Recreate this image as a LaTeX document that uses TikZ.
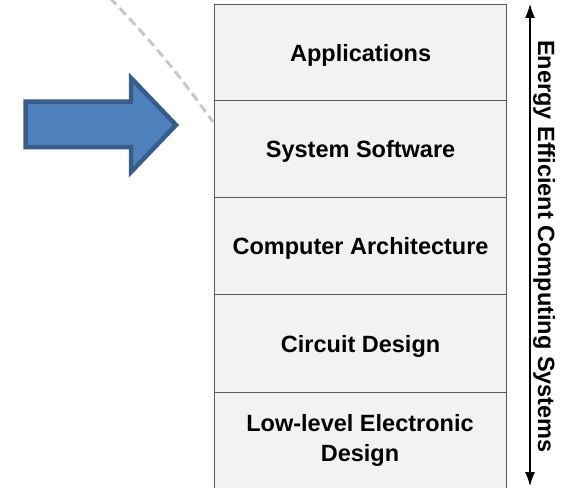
\documentclass[tikz,border=0pt]{standalone}
\usepackage{fontspec}
\setmainfont{Liberation Sans}
\usetikzlibrary{arrows.meta}
\definecolor{rowfill}{HTML}{F2F2F2}
\definecolor{rowline}{HTML}{595959}
\definecolor{arrfill}{HTML}{4F81BD}
\definecolor{arrline}{HTML}{385D8A}
\definecolor{dashgray}{HTML}{C8C8C8}
\tikzset{
  layer/.style={draw=rowline, fill=rowfill, line width=1.2pt, minimum width=292pt,
    anchor=north west, inner sep=0pt,
    font=\fontsize{23.5}{30}\selectfont\bfseries, text height=17pt, text depth=0pt},
  layertext/.style={inner sep=0pt, align=center, anchor=base,
    font=\fontsize{23.5}{30}\selectfont\bfseries},
  axislabel/.style={font=\fontsize{23.5}{28}\selectfont\bfseries, rotate=-90, anchor=base, inner sep=0pt},
  axisarrow/.style={line width=1.1pt, {Latex[length=14pt,width=10pt]}-{Latex[length=14pt,width=10pt]}},
  bigarrow/.style={fill=arrfill, draw=arrline, line width=4.5pt, line join=miter},
  ghost/.style={draw=dashgray, line width=3pt, dash pattern=on 9pt off 5pt}
}
\begin{document}
\begin{tikzpicture}[x=1pt,y=-1pt]
\useasboundingbox (0,0) rectangle (564,487);
\clip (0,0) rectangle (564,487);
% ghost dashed line
\draw[ghost] (110,-2) to[bend left=4] (213,122);
% big blue arrow
\draw[bigarrow] (25.5,101.5) -- (131,101.5) -- (131,78) -- (176,125) -- (131,172) -- (131,147) -- (25.5,147) -- cycle;
% layers
\node[layer, minimum height=96pt] (apps) at (214,4) {Applications};
\node[layer, minimum height=97pt] (sys) at (214,100) {System Software};
\node[layer, minimum height=97pt] (arch) at (214,197) {Computer Architecture};
\node[layer, minimum height=98pt] (circ) at (214,294) {Circuit Design};
\node[layer, minimum height=98pt] (low) at (214,392) {};
\node[layertext] (lowtxt) at (360,461.5) {Low-level Electronic\\Design};
% axis
\coordinate (atop) at (530,4);
\coordinate (abot) at (530,486);
\draw[axisarrow] (abot) -- (atop);
\node[axislabel] (lbl) at (538,246.5) {Energy Efficient Computing Systems};
\end{tikzpicture}
\end{document}
